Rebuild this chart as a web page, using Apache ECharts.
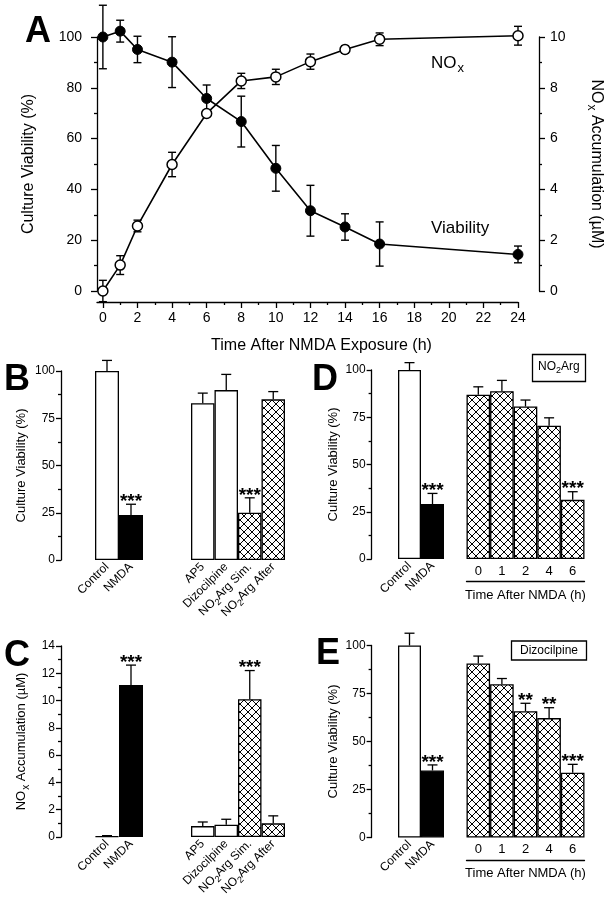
<!DOCTYPE html>
<html><head><meta charset="utf-8">
<script src="https://cdn.jsdelivr.net/npm/echarts@6/dist/echarts.min.js"></script>
<style>html,body{margin:0;padding:0;background:#fff}#c{width:612px;height:900px}</style>
</head><body><div id="c"></div>
<script>
// ---------- Panel A data ----------
const timeA = [0, 1, 2, 4, 6, 8, 10, 12, 14, 16, 24];
const viability = [100, 102.3, 95.1, 90.1, 75.8, 66.7, 48.3, 31.6, 25.2, 18.5, 14.4];
const viabilityErr = [12.5, 4.3, 5.2, 10, 5.3, 10, 9, 10, 5.2, 8.7, 3.3];
const noxA = [0, 1.02, 2.56, 4.98, 6.99, 8.27, 8.43, 9.03, 9.51, 9.91, 10.05];
const noxAErr = [0.42, 0.37, 0.23, 0.48, 0.12, 0.3, 0.3, 0.3, 0.15, 0.25, 0.37];
const xTicksA = [0, 2, 4, 6, 8, 10, 12, 14, 16, 18, 20, 22, 24];
const xMinorA = [1, 3, 5, 7, 9, 11, 13, 15, 17, 19, 21, 23];

// ---------- Panels B-E data ----------
const ctrlCats = ['Control', 'NMDA'];
const treatCats = ['AP5', 'Dizocilpine', 'NO2 Arg Sim.', 'NO2 Arg After'];
const timeCats = ['0', '1', '2', '4', '6'];

const bCtrl = [100, 23.8], bCtrlErr = [5.6, 5.7], bCtrlSig = ['', '***'];
const bTreat = [83, 89.9, 25, 85], bTreatErr = [5.3, 8.3, 7.9, 4.1], bTreatSig = ['', '', '***', ''];

const cCtrl = [0.06, 11.15], cCtrlErr = [0.04, 1.45], cCtrlSig = ['', '***'];
const cTreat = [0.8, 0.9, 10.1, 1.0], cTreatErr = [0.3, 0.4, 2.1, 0.55], cTreatSig = ['', '', '***', ''];

const dCtrl = [100, 29.1], dCtrlErr = [3.9, 5.6], dCtrlSig = ['', '***'];
const dTime = [86.9, 88.8, 80.7, 70.5, 31.3], dTimeErr = [4.2, 5.7, 3.4, 4.2, 4.3], dTimeSig = ['', '', '', '', '***'];

const eCtrl = [100, 34.9], eCtrlErr = [6.4, 2.9], eCtrlSig = ['', '***'];
const eTime = [90.6, 79.8, 65.8, 62.2, 33.7], eTimeErr = [3.9, 3.0, 4.1, 5.4, 4.4], eTimeSig = ['', '', '**', '**', '***'];

// ---------- styles ----------
const FONT = '"Liberation Sans", Arial, Helvetica, sans-serif';
const BLACK = '#000';
const lineW = 1.3;
const hatchCanvas = (function () {
  const s = 8, c = document.createElement('canvas');
  c.width = s; c.height = s;
  const g = c.getContext('2d');
  g.fillStyle = '#fff'; g.fillRect(0, 0, s, s);
  g.strokeStyle = '#000'; g.lineWidth = 1;
  g.beginPath();
  g.moveTo(-1, -1); g.lineTo(s + 1, s + 1);
  g.moveTo(s + 1, -1); g.lineTo(-1, s + 1);
  g.stroke();
  return c;
})();
const FILL = { w: '#ffffff', k: '#000000', h: { image: hatchCanvas, repeat: 'repeat' } };
const ctrlFills = ['w', 'k'];
const bTreatFills = ['w', 'w', 'h', 'h'];
const timeFills = ['h', 'h', 'h', 'h', 'h'];

const grids = [], xAxes = [], yAxes = [], series = [];
const axLine = () => ({ show: true, onZero: false, lineStyle: { color: BLACK, width: lineW } });
const tickStyle = () => ({ color: BLACK, width: lineW });

// ---------- Panel A ----------
grids.push({ left: 97, top: 37, width: 428, height: 254 });
xAxes.push({
  gridIndex: 0, type: 'value', position: 'bottom', min: -0.34, max: 24, offset: 11,
  axisLine: axLine(), splitLine: { show: false },
  axisTick: { show: true, customValues: xTicksA, length: 6, lineStyle: tickStyle() },
  axisLabel: { customValues: xTicksA, fontSize: 14, color: BLACK, margin: 9, fontFamily: FONT },
  name: 'Time After NMDA Exposure (h)', nameLocation: 'middle', nameGap: 36,
  nameTextStyle: { fontSize: 16, color: BLACK, fontFamily: FONT, padding: [0, 0, 0, 28] }
});
xAxes.push({
  gridIndex: 0, type: 'value', position: 'bottom', min: -0.34, max: 24, offset: 11,
  axisLine: { show: false, onZero: false }, splitLine: { show: false }, axisLabel: { show: false },
  axisTick: { show: true, customValues: xMinorA, length: 3, lineStyle: tickStyle() }
});
yAxes.push({
  gridIndex: 0, type: 'value', min: 0, max: 100, interval: 20, position: 'left',
  axisLine: axLine(),
  axisTick: { show: true, length: 6, lineStyle: tickStyle() },
  minorTick: { show: true, splitNumber: 2, length: 3, lineStyle: tickStyle() },
  splitLine: { show: false }, minorSplitLine: { show: false },
  axisLabel: { fontSize: 14, color: BLACK, margin: 15, fontFamily: FONT },
  name: 'Culture Viability (%)', nameLocation: 'middle', nameRotate: 90, nameGap: 60,
  nameTextStyle: { fontSize: 16, color: BLACK, fontFamily: FONT }
});
yAxes.push({
  gridIndex: 0, type: 'value', min: 0, max: 10, interval: 2, position: 'right', offset: 21,
  axisLine: axLine(),
  axisTick: { show: true, length: 6, lineStyle: tickStyle() },
  minorTick: { show: true, splitNumber: 2, length: 3, lineStyle: tickStyle() },
  splitLine: { show: false }, minorSplitLine: { show: false },
  axisLabel: { fontSize: 14, color: BLACK, margin: 11, fontFamily: FONT },
  name: 'NO{s|x} Accumulation (µM)', nameLocation: 'middle', nameRotate: -90, nameGap: 46,
  nameTextStyle: { fontSize: 16, color: BLACK, fontFamily: FONT,
    rich: { s: { fontSize: 12, fontFamily: FONT, color: BLACK, padding: [10, 0, 0, 1] } } }
});

function symErrRender(params, api) {
  const x = api.value(0), y = api.value(1), e = api.value(2);
  const lo = api.coord([x, y - e]), hi = api.coord([x, y + e]);
  const st = { stroke: BLACK, lineWidth: 1.4 };
  const c = 4;
  return {
    type: 'group', children: [
      { type: 'line', shape: { x1: lo[0], y1: lo[1], x2: hi[0], y2: hi[1] }, style: st },
      { type: 'line', shape: { x1: lo[0] - c, y1: lo[1], x2: lo[0] + c, y2: lo[1] }, style: st },
      { type: 'line', shape: { x1: hi[0] - c, y1: hi[1], x2: hi[0] + c, y2: hi[1] }, style: st }
    ]
  };
}
series.push({ type: 'custom', xAxisIndex: 0, yAxisIndex: 0, z: 2, clip: false, renderItem: symErrRender,
  data: timeA.map((t, i) => [t, viability[i], viabilityErr[i]]) });
series.push({ type: 'custom', xAxisIndex: 0, yAxisIndex: 1, z: 2, clip: false, renderItem: symErrRender,
  data: timeA.map((t, i) => [t, noxA[i], noxAErr[i]]) });
series.push({ type: 'line', xAxisIndex: 0, yAxisIndex: 0, z: 3, clip: false, symbol: 'circle', symbolSize: 10,
  lineStyle: { color: BLACK, width: 1.6 }, itemStyle: { color: BLACK, borderColor: BLACK, borderWidth: 1 },
  data: timeA.map((t, i) => [t, viability[i]]) });
series.push({ type: 'line', xAxisIndex: 0, yAxisIndex: 1, z: 3, clip: false, symbol: 'circle', symbolSize: 10,
  lineStyle: { color: BLACK, width: 1.6 }, itemStyle: { color: '#fff', borderColor: BLACK, borderWidth: 1.5 },
  data: timeA.map((t, i) => [t, noxA[i]]) });

// ---------- bar panels ----------
function upErrRender(sig) {
  return function (params, api) {
    const i = api.value(0), v = api.value(1), e = api.value(2);
    const p0 = api.coord([i, v]), p1 = api.coord([i, v + e]);
    const st = { stroke: BLACK, lineWidth: 1.3 };
    const c = 5;
    const ch = [
      { type: 'line', shape: { x1: p0[0], y1: p0[1], x2: p1[0], y2: p1[1] }, style: st },
      { type: 'line', shape: { x1: p1[0] - c, y1: p1[1], x2: p1[0] + c, y2: p1[1] }, style: st }
    ];
    const s = sig[params.dataIndex];
    if (s) ch.push({ type: 'text', x: p1[0], y: p1[1] + 7,
      style: { text: s, font: 'bold 19px ' + FONT, fill: BLACK, align: 'center', verticalAlign: 'bottom' } });
    return { type: 'group', children: ch };
  };
}
const subRich = { s: { fontSize: 9, fontFamily: FONT, color: BLACK, padding: [8, 0, 0, 0] } };

function addBarGrid(cfg) {
  const gi = grids.length;
  grids.push({ left: cfg.left, top: cfg.top, width: cfg.width, height: cfg.height });
  const xi = xAxes.length;
  const xa = { gridIndex: gi, type: 'category', position: 'bottom', data: cfg.cats, axisTick: { show: false },
    axisLine: { show: false, onZero: false }, splitLine: { show: false } };
  if (cfg.labelMode === 'rot') {
    xa.axisLabel = { rotate: 45, interval: 0, fontSize: 12, color: BLACK, fontFamily: FONT, margin: 5,
      formatter: v => v.replace('NO2 ', 'NO{s|2}'), rich: subRich };
  } else {
    xa.offset = cfg.lineOffset;
    xa.axisLine = axLine();
    xa.axisLabel = { inside: true, interval: 0, fontSize: 13, color: BLACK, fontFamily: FONT, margin: 4 };
    xa.name = 'Time After NMDA (h)'; xa.nameLocation = 'middle'; xa.nameGap = 7;
    xa.nameTextStyle = { fontSize: 13, color: BLACK, fontFamily: FONT, verticalAlign: 'top' };
  }
  xAxes.push(xa);
  const yi = yAxes.length;
  const ya = { gridIndex: gi, type: 'value', min: cfg.min, max: cfg.max, interval: cfg.interval,
    splitLine: { show: false }, minorSplitLine: { show: false } };
  if (cfg.yName) {
    Object.assign(ya, {
      position: 'left', offset: cfg.yOffset,
      axisLine: axLine(),
      axisTick: { show: true, length: 5, lineStyle: tickStyle() },
      minorTick: { show: true, splitNumber: 2, length: 3, lineStyle: tickStyle() },
      axisLabel: { fontSize: 12, color: BLACK, fontFamily: FONT, margin: 6 },
      name: cfg.yName, nameLocation: 'middle', nameRotate: 90, nameGap: cfg.nameGap,
      nameTextStyle: { fontSize: 13, color: BLACK, fontFamily: FONT,
        rich: { s: { fontSize: 10, fontFamily: FONT, color: BLACK, padding: [9, 0, 0, 1] } } }
    });
  } else {
    ya.show = false;
  }
  yAxes.push(ya);
  series.push({ type: 'bar', xAxisIndex: xi, yAxisIndex: yi, barCategoryGap: '0%', z: 2,
    data: cfg.values.map((v, i) => ({ value: v, itemStyle: { color: FILL[cfg.fills[i]] } })),
    itemStyle: { borderColor: BLACK, borderWidth: 1.3 } });
  series.push({ type: 'custom', xAxisIndex: xi, yAxisIndex: yi, z: 3, clip: false,
    renderItem: upErrRender(cfg.sig),
    data: cfg.values.map((v, i) => [i, v, cfg.errs[i]]) });
}

// B
addBarGrid({ left: 95, top: 371, width: 48, height: 189, cats: ctrlCats, values: bCtrl, errs: bCtrlErr, sig: bCtrlSig,
  fills: ctrlFills, min: 0, max: 100, interval: 25, labelMode: 'rot', yName: 'Culture Viability (%)', yOffset: 34, nameGap: 33 });
addBarGrid({ left: 191, top: 371, width: 94, height: 189, cats: treatCats, values: bTreat, errs: bTreatErr, sig: bTreatSig,
  fills: bTreatFills, min: 0, max: 100, interval: 25, labelMode: 'rot' });
// C
addBarGrid({ left: 95, top: 646, width: 48, height: 191, cats: ctrlCats, values: cCtrl, errs: cCtrlErr, sig: cCtrlSig,
  fills: ctrlFills, min: 0, max: 14, interval: 2, labelMode: 'rot', yName: 'NO{s|x} Accumulation (µM)', yOffset: 34, nameGap: 30 });
addBarGrid({ left: 191, top: 646, width: 94, height: 191, cats: treatCats, values: cTreat, errs: cTreatErr, sig: cTreatSig,
  fills: bTreatFills, min: 0, max: 14, interval: 2, labelMode: 'rot' });
// D
addBarGrid({ left: 398, top: 370, width: 46, height: 189, cats: ctrlCats, values: dCtrl, errs: dCtrlErr, sig: dCtrlSig,
  fills: ctrlFills, min: 0, max: 100, interval: 25, labelMode: 'rot', yName: 'Culture Viability (%)', yOffset: 26.4, nameGap: 32 });
addBarGrid({ left: 466.5, top: 370, width: 118, height: 189, cats: timeCats, values: dTime, errs: dTimeErr, sig: dTimeSig,
  fills: timeFills, min: 0, max: 100, interval: 25, labelMode: 'time', lineOffset: 22.5 });
// E
addBarGrid({ left: 398, top: 645.5, width: 46, height: 192, cats: ctrlCats, values: eCtrl, errs: eCtrlErr, sig: eCtrlSig,
  fills: ctrlFills, min: 0, max: 100, interval: 25, labelMode: 'rot', yName: 'Culture Viability (%)', yOffset: 26.4, nameGap: 32 });
addBarGrid({ left: 466.5, top: 645.5, width: 118, height: 192, cats: timeCats, values: eTime, errs: eTimeErr, sig: eTimeSig,
  fills: timeFills, min: 0, max: 100, interval: 25, labelMode: 'time', lineOffset: 22.5 });

// ---------- text annotations (title components) ----------
const letterStyle = { fontSize: 36, fontWeight: 'bold', color: BLACK, fontFamily: FONT };
function t(text, left, top, textStyle, extra) {
  return Object.assign({ text: text, left: left, top: top, padding: 0, itemGap: 0, textStyle: textStyle }, extra || {});
}
const plain = (size, rich) => ({ fontSize: size, fontWeight: 'normal', color: BLACK, fontFamily: FONT, rich: rich });
const titles = [
  t('A', 25, 14, letterStyle),
  t('B', 4, 362, letterStyle),
  t('C', 4, 638, letterStyle),
  t('D', 312, 362, letterStyle),
  t('E', 316, 636, letterStyle),
  t('NO{s|x}', 431, 52, plain(17, { s: { fontSize: 13, fontWeight: 'normal', color: BLACK, fontFamily: FONT, padding: [10, 0, 0, 1] } })),
  t('Viability', 431, 220, plain(17)),
  t('NO{s|2}Arg', 532, 352, plain(12, { s: { fontSize: 9, fontWeight: 'normal', color: BLACK, fontFamily: FONT, padding: [8, 0, 0, 0] } }),
    { padding: [6, 6, 7, 6], borderColor: BLACK, borderWidth: 1.3, backgroundColor: '#fff' }),
  t('Dizocilpine', 511, 640.5, plain(12),
    { padding: [4, 9, 4, 9], borderColor: BLACK, borderWidth: 1.3, backgroundColor: '#fff' })
];

const chart = echarts.init(document.getElementById('c'), null, { renderer: 'canvas' });
chart.setOption({
  animation: false,
  textStyle: { fontFamily: FONT },
  title: titles,
  grid: grids, xAxis: xAxes, yAxis: yAxes, series: series
});
</script>
</body></html>
